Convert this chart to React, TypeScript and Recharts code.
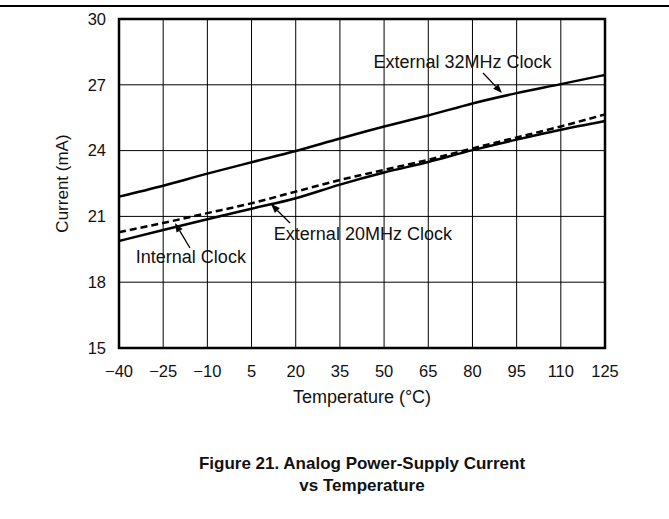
import React from 'react';
import { LineChart, Line, XAxis, YAxis, CartesianGrid, ReferenceArea, ReferenceLine, ReferenceDot } from 'recharts';

const temperatures = [-40, -25, -10, 5, 20, 35, 50, 65, 80, 95, 110, 125];
const ext32MHz = [21.9, 22.4, 22.95, 23.47, 23.98, 24.55, 25.1, 25.6, 26.15, 26.62, 27.03, 27.45];
const ext20MHz = [19.88, 20.38, 20.87, 21.35, 21.83, 22.45, 23.0, 23.48, 24.02, 24.5, 24.95, 25.35];
const internalClk = [20.28, 20.7, 21.15, 21.6, 22.13, 22.66, 23.12, 23.58, 24.1, 24.6, 25.1, 25.65];

const xTicks = [-40, -25, -10, 5, 20, 35, 50, 65, 80, 95, 110, 125];
const yTicks = [15, 18, 21, 24, 27, 30];

const annotationTexts = [
  { text: 'External 32MHz Clock', x: 76.6, y: 27.77 },
  { text: 'External 20MHz Clock', x: 42.8, y: 19.92 },
  { text: 'Internal Clock', x: -15.6, y: 18.87 },
];
const arrows = [
  { from: { x: 83.6, y: 27.54 }, to: { x: 90.0, y: 26.63 } },
  { from: { x: 18.06, y: 20.7 }, to: { x: 11.6, y: 21.56 } },
  { from: { x: -15.9, y: 19.56 }, to: { x: -21.0, y: 20.7 } },
];

const data = temperatures.map((t, i) => ({
  t,
  ext32: ext32MHz[i],
  ext20: ext20MHz[i],
  internal: internalClk[i],
}));

const FONT = '"Liberation Sans", Arial, Helvetica, sans-serif';

const ArrowShape = (props: any) => {
  const { x1, y1, x2, y2 } = props;
  const dx = x2 - x1;
  const dy = y2 - y1;
  const len = Math.sqrt(dx * dx + dy * dy) || 1;
  const ux = dx / len;
  const uy = dy / len;
  const hl = 9;
  const hw = 3.5;
  const bx = x2 - ux * hl;
  const by = y2 - uy * hl;
  const p1 = `${bx - uy * hw},${by + ux * hw}`;
  const p2 = `${bx + uy * hw},${by - ux * hw}`;
  return (
    <g>
      <line x1={x1} y1={y1} x2={bx} y2={by} stroke="#000" strokeWidth={1.3} />
      <polygon points={`${x2},${y2} ${p1} ${p2}`} fill="#000" />
    </g>
  );
};

const makeTextShape = (text: string) => (props: any) => (
  <text
    x={props.cx}
    y={props.cy}
    textAnchor="middle"
    fontFamily={FONT}
    fontSize={18}
    fill="#111"
  >
    {text}
  </text>
);

const YLabel = (props: any) => {
  const vb = props.viewBox;
  const cx = 54;
  const cy = vb.y + vb.height / 2;
  return (
    <text
      x={cx}
      y={cy}
      transform={`rotate(-90 ${cx} ${cy})`}
      textAnchor="middle"
      dominantBaseline="central"
      fontFamily={FONT}
      fontSize={17}
      fill="#111"
    >
      Current (mA)
    </text>
  );
};

const XLabel = (props: any) => {
  const vb = props.viewBox;
  const cx = vb.x + vb.width / 2;
  const cy = 389;
  return (
    <text x={cx} y={cy} textAnchor="middle" dominantBaseline="central" fontFamily={FONT} fontSize={18} fill="#111">
      Temperature (°C)
    </text>
  );
};

export default function App() {
  return (
    <div style={{ position: 'relative', width: 661, height: 511, background: '#fff' }}>
      <LineChart
        width={661}
        height={420}
        data={data}
        margin={{ top: 11, right: 64, left: 0, bottom: 0 }}
      >
        <CartesianGrid stroke="#000" strokeWidth={1} />
        <XAxis
          dataKey="t"
          type="number"
          domain={[-40, 125]}
          ticks={xTicks}
          height={80}
          axisLine={false}
          tickLine={false}
          tickMargin={11}
          interval={0}
          tick={{ fill: '#111', fontSize: 16.5, fontFamily: FONT }}
          tickFormatter={(v: number) => (v < 0 ? `\u2212${Math.abs(v)}` : `${v}`)}
          label={<XLabel />}
        />
        <YAxis
          type="number"
          domain={[15, 30]}
          ticks={yTicks}
          width={111}
          axisLine={false}
          tickLine={false}
          tickMargin={7}
          interval={0}
          tick={{ fill: '#111', fontSize: 16.5, fontFamily: FONT }}
          label={<YLabel />}
        />
        <ReferenceArea x1={-40} x2={125} y1={15} y2={30} fill="none" stroke="#000" strokeWidth={2.5} fillOpacity={0} />
        <Line dataKey="ext32" type="monotone" stroke="#000" strokeWidth={2.5} dot={false} isAnimationActive={false} />
        <Line dataKey="ext20" type="monotone" stroke="#000" strokeWidth={2.5} dot={false} isAnimationActive={false} />
        <Line dataKey="internal" type="monotone" stroke="#000" strokeWidth={2.5} strokeDasharray="7 4" dot={false} isAnimationActive={false} />
        {arrows.map((a, i) => (
          <ReferenceLine key={`ar${i}`} segment={[a.from, a.to]} shape={ArrowShape} ifOverflow="visible" />
        ))}
        {annotationTexts.map((a, i) => (
          <ReferenceDot key={`tx${i}`} x={a.x} y={a.y} r={0} shape={makeTextShape(a.text)} ifOverflow="visible" />
        ))}
      </LineChart>
      <div
        style={{
          position: 'absolute',
          left: 0,
          top: 445,
          width: 708,
          textAlign: 'center',
          fontFamily: FONT,
          fontWeight: 'bold',
          fontSize: 17,
          lineHeight: '22px',
          color: '#111',
        }}
      >
        Figure 21. Analog Power-Supply Current
        <br />
        vs Temperature
      </div>
      <div style={{ position: 'fixed', left: 0, top: 5, width: 669, height: 1.5, background: '#000', zIndex: 10 }} />
    </div>
  );
}
